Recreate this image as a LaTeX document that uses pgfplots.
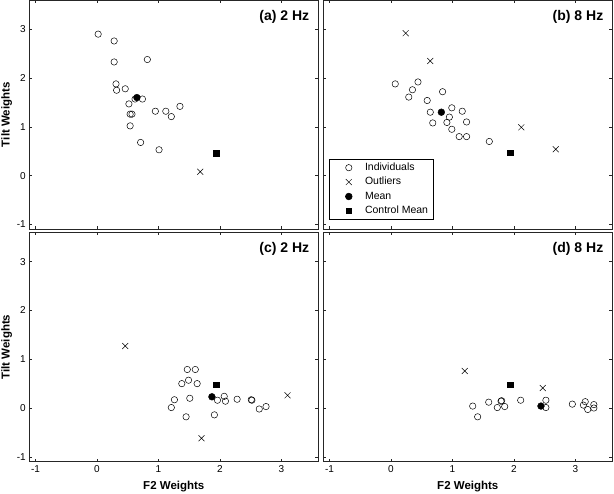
\documentclass[border=0pt]{standalone}
\usepackage{pgfplots}
\pgfplotsset{compat=1.18}
\usepackage{fontspec}
\setmainfont{Liberation Sans}

\pgfplotsset{
  panel/.style={
    scale only axis, width=289pt, height=229.3pt,
    xmin=-1.1, xmax=3.6, ymin=-1.1, ymax=3.6,
    xtick={-1,0,1,2,3}, ytick={-1,0,1,2,3},
    tick align=inside, major tick length=3pt,
    axis line style={line width=0.6pt, black!85},
    tick style={line width=0.5pt, black!85},
    ticklabel style={font=\fontsize{10}{12}\selectfont},
    every axis x label/.style={at={(axis description cs:0.5,-0.1103)}, anchor=center, font=\bfseries\fontsize{11.5}{14}\selectfont},
    every axis y label/.style={at={(axis description cs:-0.0779,0.5)}, anchor=center, rotate=90, font=\bfseries\fontsize{11.5}{14}\selectfont},
  },
  indiv/.style={only marks, mark=o, mark size=3.2pt, mark options={line width=0.5pt, draw=black}},
  outl/.style={only marks, mark=x, mark size=4.2pt, mark options={line width=0.5pt, draw=black}},
  meanst/.style={only marks, mark=*, mark size=3.4pt, mark options={fill=black, draw=black}},
  ctrl/.style={only marks, mark=square*, mark size=2.6pt, mark options={fill=black, draw=black}},
}
\newcommand{\paneltitle}[1]{\node[anchor=base east, xshift=-5.5pt, yshift=-20.5pt, font=\bfseries\fontsize{14}{16}\selectfont] at (rel axis cs:1,1) {#1};}

\begin{document}
\begin{tikzpicture}
\useasboundingbox (0pt,0pt) rectangle (614pt,494pt);

% (a)
\begin{axis}[panel, at={(29.3pt,264.7pt)}, xticklabels={}, yticklabels={-1,0,1,2,3}, ylabel={Tilt Weights}]
\addplot[indiv] coordinates {(0.02,2.90) (0.28,2.76) (0.28,2.33) (0.82,2.38) (0.31,1.88) (0.32,1.75) (0.46,1.78) (0.74,1.57) (0.62,1.57) (0.52,1.47) (0.54,1.26) (0.57,1.26) (0.54,1.02) (0.95,1.32) (1.12,1.32) (1.21,1.21) (1.35,1.42) (0.71,0.68) (1.01,0.53)};
\addplot[outl] coordinates {(1.68,0.08)};
\addplot[meanst] coordinates {(0.65,1.60)};
\addplot[ctrl] coordinates {(1.94,0.46)};
\paneltitle{(a) 2 Hz}
\end{axis}

% (b)
\begin{axis}[panel, at={(323.3pt,264.7pt)}, xticklabels={}, yticklabels={},
  legend style={at={(rel axis cs:0,0)}, anchor=south west, xshift=5.7pt, yshift=9.3pt,
    font=\fontsize{10.5}{12}\selectfont, draw=black, line width=0.5pt,
    inner xsep=4.7pt, inner ysep=3.6pt, row sep=3.9pt, column sep=0pt,
    nodes={inner sep=0pt, text height=8pt, text depth=2.5pt}},
  legend cell align=left,
  legend image code/.code={\path (0pt,0pt) (30.6pt,0pt); \draw[mark repeat=2,mark phase=2,#1] plot coordinates {(0pt,0pt) (14.6pt,0pt) (29.2pt,0pt)};}]
\addplot[indiv] coordinates {(0.07,1.88) (0.35,1.76) (0.44,1.92) (0.29,1.61) (0.84,1.72) (0.59,1.54) (0.64,1.30) (0.68,1.08) (0.99,1.39) (1.16,1.32) (0.95,1.20) (0.91,1.09) (1.23,1.10) (0.99,0.95) (1.11,0.80) (1.23,0.80) (1.60,0.70)};
\addlegendentry{Individuals}
\addplot[outl] coordinates {(0.24,2.92) (0.64,2.35) (2.12,0.99) (2.68,0.54)};
\addlegendentry{Outliers}
\addplot[meanst] coordinates {(0.82,1.30)};
\addlegendentry{Mean}
\addplot[ctrl] coordinates {(1.94,0.47)};
\addlegendentry{Control Mean}
\paneltitle{(b) 8 Hz}
\end{axis}

% (c)
\begin{axis}[panel, at={(29.3pt,32.3pt)}, xticklabels={-1,0,1,2,3}, yticklabels={-1,0,1,2,3}, xlabel={F2 Weights}, ylabel={Tilt Weights}]
\addplot[indiv] coordinates {(1.47,0.79) (1.60,0.79) (1.38,0.50) (1.49,0.57) (1.63,0.50) (1.26,0.17) (1.21,0.01) (1.51,0.20) (1.45,-0.18) (1.91,-0.14) (1.96,0.16) (2.07,0.24) (2.09,0.14) (2.28,0.18) (2.51,0.17) (2.52,0.16) (2.64,-0.02) (2.75,0.03)};
\addplot[outl] coordinates {(0.46,1.27) (1.70,-0.62) (3.10,0.26)};
\addplot[meanst] coordinates {(1.87,0.23)};
\addplot[ctrl] coordinates {(1.94,0.47)};
\paneltitle{(c) 2 Hz}
\end{axis}

% (d)
\begin{axis}[panel, at={(323.3pt,32.3pt)}, xticklabels={-1,0,1,2,3}, yticklabels={}, xlabel={F2 Weights}]
\addplot[indiv] coordinates {(1.33,0.04) (1.41,-0.18) (1.59,0.12) (1.79,0.14) (1.80,0.15) (1.73,0.01) (1.85,0.03) (2.11,0.16) (2.52,0.16) (2.52,0.01) (2.95,0.08) (3.16,0.13) (3.13,0.06) (3.20,-0.03) (3.30,0.07) (3.30,0.00)};
\addplot[outl] coordinates {(1.20,0.76) (2.47,0.41)};
\addplot[meanst] coordinates {(2.44,0.04)};
\addplot[ctrl] coordinates {(1.94,0.47)};
\paneltitle{(d) 8 Hz}
\end{axis}
\end{tikzpicture}
\end{document}
